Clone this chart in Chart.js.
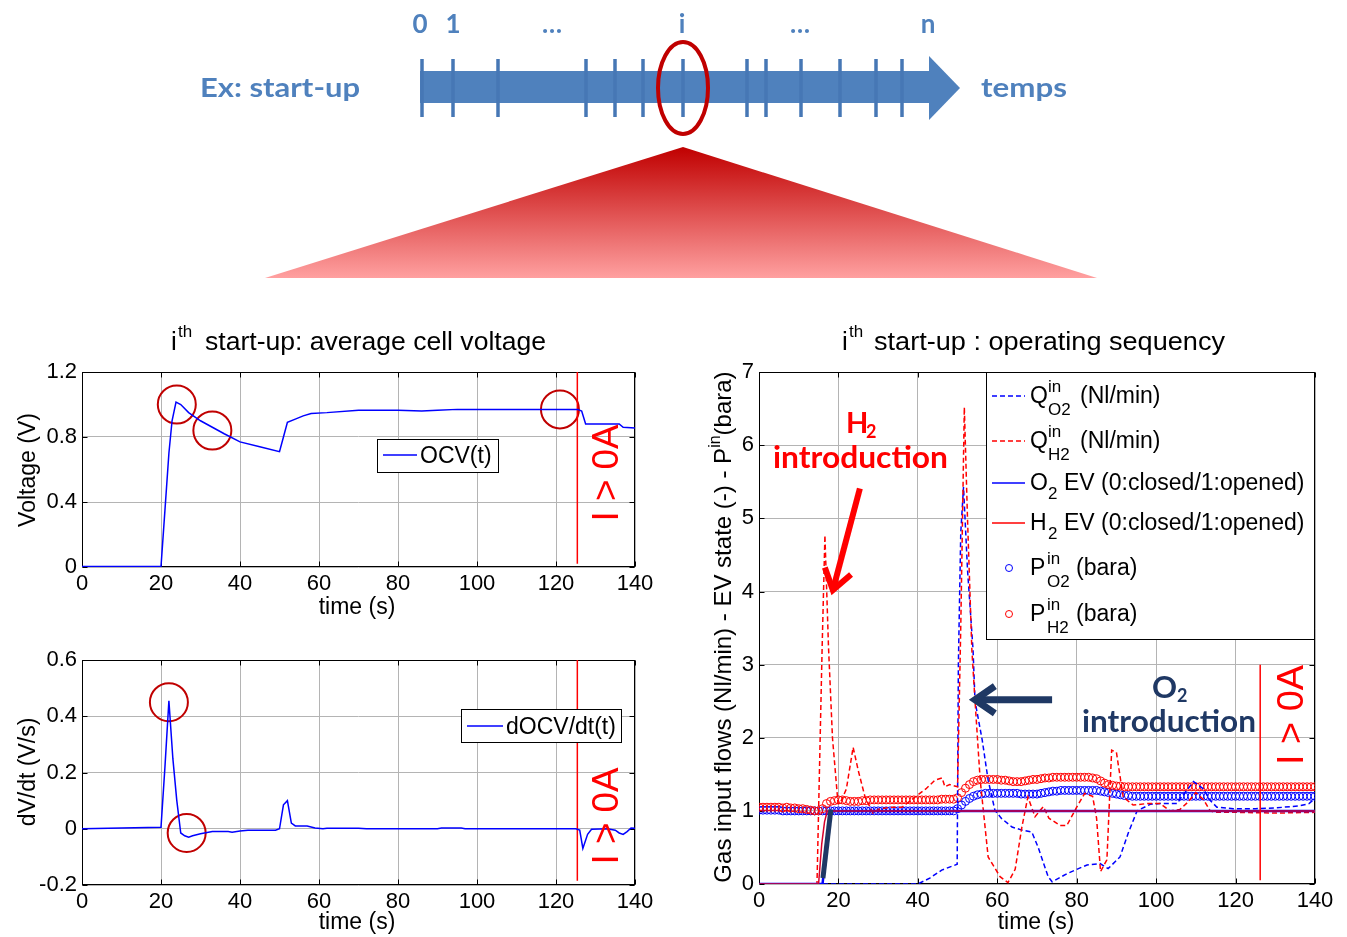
<!DOCTYPE html>
<html>
<head>
<meta charset="utf-8">
<title>ith start-up</title>
<script src="https://cdn.jsdelivr.net/npm/chart.js@4.4.1/dist/chart.umd.min.js"></script>
<style>
  html, body { margin: 0; padding: 0; background: #fff; }
  body { position: relative; width: 1347px; height: 937px; overflow: hidden; }
  canvas { position: absolute; }
  #overlay { position: absolute; left: 0; top: 0; pointer-events: none; }
  .arial { font-family: 'Liberation Sans', Arial, sans-serif; }
  .cal { font-family: Lato, 'Open Sans', sans-serif; font-weight: bold; }
</style>
</head>
<body>
<canvas id="ocvChart" width="660" height="256" style="left:0;top:351px"></canvas>
<canvas id="docvChart" width="660" height="286" style="left:0;top:639px"></canvas>
<canvas id="seqChart" width="647" height="570" style="left:700px;top:354px"></canvas>

<svg id="overlay" width="1347" height="937">
  <defs>
    <linearGradient id="tri" x1="0" y1="0" x2="0" y2="1">
      <stop offset="0" stop-color="#c00000"/>
      <stop offset="1" stop-color="#ffa0a0"/>
    </linearGradient>
  </defs>

  <!-- timeline of start-ups -->
  <polygon points="683,147 265,278 1097,278" fill="url(#tri)"/>
  <rect x="420" y="71" width="510" height="32" fill="#4f81bd"/>
  <polygon points="929,56 960,88 929,120" fill="#4f81bd"/>
  <g stroke="#4677b5" stroke-width="3.5">
    <line x1="422" y1="59" x2="422" y2="117"/>
    <line x1="453" y1="59" x2="453" y2="117"/>
    <line x1="498" y1="59" x2="498" y2="117"/>
    <line x1="586" y1="59" x2="586" y2="117"/>
    <line x1="615" y1="59" x2="615" y2="117"/>
    <line x1="643" y1="59" x2="643" y2="117"/>
    <line x1="683" y1="59" x2="683" y2="117"/>
    <line x1="747" y1="59" x2="747" y2="117"/>
    <line x1="766" y1="59" x2="766" y2="117"/>
    <line x1="801" y1="59" x2="801" y2="117"/>
    <line x1="840" y1="59" x2="840" y2="117"/>
    <line x1="876" y1="59" x2="876" y2="117"/>
    <line x1="902" y1="59" x2="902" y2="117"/>
  </g>
  <ellipse cx="683" cy="88" rx="25" ry="46" fill="none" stroke="#c00000" stroke-width="4"/>
  <g class="cal" fill="#4f81bd" font-size="27">
    <text x="200" y="97" textLength="160" lengthAdjust="spacingAndGlyphs">Ex: start-up</text>
    <text x="981" y="97" textLength="86" lengthAdjust="spacingAndGlyphs">temps</text>
    <g text-anchor="middle" font-size="26">
      <text x="420" y="33">0</text>
      <text x="453" y="33">1</text>
      <text x="552" y="33">…</text>
      <text x="682" y="33">i</text>
      <text x="800" y="33">…</text>
      <text x="928" y="33">n</text>
    </g>
  </g>

  <!-- titles -->
  <g class="arial" fill="#000">
    <text x="171" y="350" font-size="26">i</text>
    <text x="178" y="337" font-size="17">th</text>
    <text x="205" y="350" font-size="26" textLength="341" lengthAdjust="spacingAndGlyphs">start-up: average cell voltage</text>
    <text x="842" y="350" font-size="26">i</text>
    <text x="849" y="337" font-size="17">th</text>
    <text x="874" y="350" font-size="26" textLength="351" lengthAdjust="spacingAndGlyphs">start-up : operating sequency</text>

    <!-- axis titles -->
    <g font-size="23" text-anchor="middle">
      <text x="357" y="614">time (s)</text>
      <text x="357" y="929">time (s)</text>
      <text x="1036" y="929">time (s)</text>
      <text transform="translate(35,470) rotate(-90)">Voltage (V)</text>
      <text transform="translate(35,772) rotate(-90)">dV/dt (V/s)</text>
    </g>
    <text transform="translate(731,627) rotate(-90)" text-anchor="middle" font-size="24">Gas input flows (Nl/min) - EV state (-) - P<tspan font-size="16" dy="-11">in</tspan><tspan dy="11">(bara)</tspan></text>
  </g>

  <!-- I > 0A -->
  <g class="arial" fill="#ff0000" font-size="36" text-anchor="middle">
    <text transform="translate(618,473) rotate(-90)" textLength="97" lengthAdjust="spacingAndGlyphs">I &gt; 0A</text>
    <text transform="translate(618,816) rotate(-90)" textLength="97" lengthAdjust="spacingAndGlyphs">I &gt; 0A</text>
    <text transform="translate(1303,715) rotate(-90)" textLength="100" lengthAdjust="spacingAndGlyphs">I &gt; 0A</text>
  </g>

  <!-- legends -->
  <g class="arial" font-size="23" fill="#000">
    <rect x="377.5" y="439.5" width="121" height="33" fill="#fff" stroke="#000"/>
    <line x1="383" y1="455" x2="417" y2="455" stroke="#0000ff" stroke-width="1.5"/>
    <text x="420" y="463">OCV(t)</text>

    <rect x="461.5" y="709.5" width="160" height="33" fill="#fff" stroke="#000"/>
    <line x1="467" y1="726" x2="503" y2="726" stroke="#0000ff" stroke-width="1.5"/>
    <text x="506" y="734">dOCV/dt(t)</text>

    <rect x="986.5" y="372.5" width="328" height="267" fill="#fff" stroke="#000"/>
    <line x1="992" y1="396" x2="1025" y2="396" stroke="#0000ff" stroke-width="1.5" stroke-dasharray="5,3"/>
    <text x="1030" y="403">Q</text>
    <text x="1048" y="392" font-size="17">in</text>
    <text x="1048" y="415" font-size="17">O2</text>
    <text x="1080" y="403">(Nl/min)</text>

    <line x1="992" y1="441" x2="1025" y2="441" stroke="#ff0000" stroke-width="1.5" stroke-dasharray="5,3"/>
    <text x="1030" y="448">Q</text>
    <text x="1048" y="437" font-size="17">in</text>
    <text x="1048" y="460" font-size="17">H2</text>
    <text x="1080" y="448">(Nl/min)</text>

    <line x1="992" y1="483" x2="1025" y2="483" stroke="#0000ff" stroke-width="1.5"/>
    <text x="1030" y="490">O</text>
    <text x="1048" y="499" font-size="17">2</text>
    <text x="1064" y="490">EV (0:closed/1:opened)</text>

    <line x1="992" y1="523" x2="1025" y2="523" stroke="#ff0000" stroke-width="1.5"/>
    <text x="1030" y="530">H</text>
    <text x="1048" y="539" font-size="17">2</text>
    <text x="1064" y="530">EV (0:closed/1:opened)</text>

    <circle cx="1009" cy="568" r="3.5" fill="none" stroke="#0000ff" stroke-width="1"/>
    <text x="1030" y="575">P</text>
    <text x="1047" y="564" font-size="17">in</text>
    <text x="1047" y="587" font-size="17">O2</text>
    <text x="1076" y="575">(bara)</text>

    <circle cx="1009" cy="614" r="3.5" fill="none" stroke="#ff0000" stroke-width="1"/>
    <text x="1030" y="621">P</text>
    <text x="1047" y="610" font-size="17">in</text>
    <text x="1047" y="633" font-size="17">H2</text>
    <text x="1076" y="621">(bara)</text>
  </g>

  <!-- gas introduction notes -->
  <g class="cal">
    <g fill="#ff0000">
      <text x="846" y="433" font-size="29">H</text>
      <text x="866" y="438" font-size="18">2</text>
      <text x="773" y="468" font-size="31" textLength="175" lengthAdjust="spacingAndGlyphs">introduction</text>
    </g>
    <g fill="#1f3864">
      <text x="1152" y="698" font-size="31">O</text>
      <text x="1177" y="702" font-size="18">2</text>
      <text x="1082" y="732" font-size="31" textLength="174" lengthAdjust="spacingAndGlyphs">introduction</text>
    </g>
  </g>
</svg>

<script>
const FONT = "'Liberation Sans', Arial, sans-serif";
const GRID = '#b4b4b4';

// axes
const timeTicks = [0, 20, 40, 60, 80, 100, 120, 140];
const ocvTicks = [0, 0.4, 0.8, 1.2];
const docvTicks = [-0.2, 0, 0.2, 0.4, 0.6];
const seqTicks = [0, 1, 2, 3, 4, 5, 6, 7];

// average cell voltage (V)
const ocvTime = [0, 20, 21, 22, 22.8, 23.8, 25, 27, 30, 33, 36, 40, 45, 50, 51, 52, 54, 56, 58, 62, 70, 80, 86, 90, 95, 100, 125.5, 126.5, 127.5, 136, 137, 140];
const ocvValue = [0.003, 0.003, 0.35, 0.7, 0.9, 1.015, 1.0, 0.95, 0.9, 0.86, 0.82, 0.77, 0.74, 0.71, 0.8, 0.89, 0.91, 0.93, 0.945, 0.95, 0.965, 0.965, 0.96, 0.965, 0.97, 0.97, 0.97, 0.96, 0.88, 0.88, 0.86, 0.855];
const ocvMarkTime = [24, 33, 121];
const ocvMarkValue = [1.0, 0.84, 0.97];

// derivative dOCV/dt (V/s)
const docvTime = [0, 20, 21, 22, 23, 24, 25, 26, 27, 28, 30, 33, 37, 38, 40, 42, 49, 50, 51, 52, 53, 54, 57, 59, 61, 62, 70, 72, 90, 91, 96, 97, 125, 126, 126.8, 128, 129, 133, 135, 136, 137, 138, 139, 140];
const docvValue = [0, 0.005, 0.22, 0.455, 0.25, 0.1, -0.015, -0.025, -0.03, -0.025, -0.018, -0.01, -0.01, -0.012, -0.008, -0.005, -0.005, 0, 0.085, 0.1, 0.02, 0.01, 0.01, 0.003, 0, 0.002, 0.002, 0, 0, 0.003, 0.003, 0, 0, -0.005, -0.07, -0.02, -0.002, 0, -0.005, -0.015, -0.02, -0.01, 0.003, 0.002];
const docvMarkTime = [22, 26.5];
const docvMarkValue = [0.45, -0.015];

// current switched on
const currentOnTime = [125.4, 125.4];
const ocvCurrentOn = [0.02, 1.2];
const docvCurrentOn = [-0.185, 0.6];
const seqCurrentTime = [126.2, 126.2];
const seqCurrentOn = [0.05, 3.0];

// operating sequency: inlet flows (Nl/min)
const qO2Time = [0, 40, 43, 46, 49.9, 50.2, 50.8, 51.5, 52.5, 53.9, 54.4, 56.2, 57.7, 59.4, 61, 63.7, 66, 68.7, 70.3, 72.8, 73.8, 75.5, 77.5, 80, 82.6, 85.9, 87.9, 90.9, 93, 95.2, 98.5, 101, 105.3, 106.5, 108, 109.4, 111.9, 113.5, 115.3, 119.4, 125, 130, 136.2, 138.5, 140];
const qO2Value = [0, 0, 0.08, 0.19, 0.27, 3.0, 4.8, 5.43, 4.3, 3.2, 2.5, 1.97, 1.42, 1.01, 0.9, 0.78, 0.74, 0.71, 0.5, 0.1, 0.03, 0.08, 0.14, 0.2, 0.26, 0.28, 0.21, 0.37, 0.7, 1.0, 1.09, 1.1, 1.1, 1.2, 1.3, 1.4, 1.3, 1.15, 1.05, 1.03, 1.03, 1.04, 1.07, 1.1, 1.17];
const qH2Time = [0, 14.6, 15.9, 16.6, 17.5, 18.5, 19.9, 20.4, 22, 23.7, 25, 26.7, 28.7, 30, 33, 36, 39.3, 42, 44.3, 46.1, 46.8, 48, 50, 50.8, 51.7, 52.5, 53.6, 54.4, 55.7, 57.7, 60.7, 62.7, 64.5, 66.2, 67.7, 69.5, 71.6, 73, 75.8, 77.5, 80, 82, 84, 85, 86, 87.6, 88.8, 90, 91.7, 94.2, 97.7, 101, 103.5, 106, 108, 110, 112, 113.6, 115, 120, 130, 140];
const qH2Value = [0, 0, 3.24, 4.77, 3.24, 2.0, 1.1, 1.1, 1.3, 1.87, 1.55, 1.19, 0.97, 1.02, 1.05, 1.05, 1.19, 1.3, 1.42, 1.45, 1.33, 1.36, 1.33, 3.5, 6.52, 5.0, 3.2, 2.5, 1.42, 0.37, 0.1, 0.02, 0.2, 0.78, 1.19, 0.92, 1.06, 0.9, 0.8, 0.8, 1.05, 1.24, 1.2, 0.9, 0.17, 0.33, 1.83, 1.8, 1.19, 1.08, 1.1, 1.1, 1.0, 1.02, 1.12, 1.25, 1.15, 1.0, 0.98, 0.98, 0.97, 0.98];

// valve states (0 closed / 1 opened)
const evO2Time = [0, 16, 18, 140];
const evO2Value = [0, 0, 1, 1];
const evH2Time = [0, 15, 15.8, 16.5, 17.2, 140];
const evH2Value = [0, 0, 0.55, 0.85, 1, 1];
const evMarkTime = [16.1, 18.1];
const evMarkValue = [0.08, 1.02];

// inlet pressures (bara), one sample per second from t = 0 s
const pO2 = [
  1.01, 1.01, 1.01, 1.01, 1.01, 1.01, 1.0, 1.0, 1.0, 1.0,
  1.0, 1.0, 1.0, 1.0, 1.0, 1.0, 1.0, 1.0, 1.0, 1.0,
  1.0, 1.0, 1.0, 1.0, 1.0, 1.0, 1.0, 1.0, 1.0, 1.0,
  1.0, 1.0, 1.0, 1.0, 1.0, 1.0, 1.0, 1.0, 1.0, 1.0,
  1.0, 1.0, 1.0, 1.0, 1.0, 1.0, 1.0, 1.0, 1.0, 1.0,
  1.03, 1.08, 1.13, 1.17, 1.2, 1.22, 1.23, 1.24, 1.24, 1.24,
  1.24, 1.24, 1.24, 1.24, 1.24, 1.24, 1.23, 1.23, 1.23, 1.23,
  1.23, 1.24, 1.25, 1.26, 1.27, 1.27, 1.28, 1.28, 1.28, 1.28,
  1.28, 1.28, 1.28, 1.28, 1.28, 1.28, 1.27, 1.26, 1.25, 1.24,
  1.23, 1.22, 1.21, 1.21, 1.2, 1.2, 1.2, 1.2, 1.2, 1.2,
  1.2, 1.2, 1.2, 1.2, 1.2, 1.2, 1.2, 1.2, 1.2, 1.2,
  1.2, 1.2, 1.2, 1.2, 1.2, 1.2, 1.2, 1.2, 1.2, 1.2,
  1.2, 1.2, 1.2, 1.2, 1.2, 1.2, 1.2, 1.2, 1.2, 1.2,
  1.2, 1.2, 1.2, 1.2, 1.2, 1.2, 1.2, 1.2, 1.2, 1.2,
  1.2
];
const pH2 = [
  1.05, 1.05, 1.05, 1.05, 1.05, 1.05, 1.04, 1.05, 1.04, 1.04,
  1.03, 1.03, 1.02, 1.01, 1.0, 1.0, 1.03, 1.1, 1.13, 1.14,
  1.15, 1.15, 1.14, 1.13, 1.13, 1.13, 1.14, 1.14, 1.15, 1.15,
  1.15, 1.15, 1.15, 1.15, 1.15, 1.15, 1.15, 1.15, 1.15, 1.15,
  1.15, 1.15, 1.15, 1.15, 1.15, 1.15, 1.16, 1.16, 1.16, 1.16,
  1.18, 1.25, 1.31, 1.36, 1.4, 1.42, 1.43, 1.43, 1.43, 1.43,
  1.43, 1.42, 1.42, 1.41, 1.4, 1.4, 1.4, 1.41, 1.42, 1.43,
  1.43, 1.44, 1.45, 1.45, 1.46, 1.46, 1.46, 1.46, 1.46, 1.46,
  1.46, 1.46, 1.46, 1.46, 1.45, 1.44, 1.41, 1.38, 1.36, 1.35,
  1.34, 1.34, 1.33, 1.33, 1.33, 1.33, 1.33, 1.33, 1.33, 1.33,
  1.33, 1.33, 1.33, 1.33, 1.33, 1.33, 1.33, 1.33, 1.33, 1.33,
  1.33, 1.33, 1.33, 1.33, 1.33, 1.33, 1.33, 1.33, 1.33, 1.33,
  1.33, 1.33, 1.33, 1.33, 1.33, 1.33, 1.33, 1.33, 1.33, 1.33,
  1.33, 1.33, 1.33, 1.33, 1.33, 1.33, 1.33, 1.33, 1.33, 1.33,
  1.33
];

// annotation arrows (tail -> tip, in data units)
const h2ArrowTime = [25.4, 18.6];
const h2ArrowValue = [5.41, 4.02];
const o2ArrowTime = [73.8, 54.4];
const o2ArrowValue = [2.52, 2.52];

function pairs(xs, ys) {
    return xs.map((x, i) => ({ x: x, y: ys[i] }));
}

// box around the plot and small inner tick marks, matlab style
// drawn before the data so curves sitting on the axes stay visible
const frame = {
    id: 'frame',
    beforeDatasetsDraw(chart) {
        const { ctx, chartArea: a, scales } = chart;
        const l = Math.round(a.left) + 0.5, r = Math.round(a.right) - 0.5;
        const t = Math.round(a.top) + 0.5, b = Math.round(a.bottom) - 0.5;
        ctx.save();
        ctx.strokeStyle = '#000';
        ctx.lineWidth = 1;
        ctx.beginPath();
        for (const tk of scales.x.ticks) {
            const px = Math.round(scales.x.getPixelForValue(tk.value)) + 0.5;
            ctx.moveTo(px, b); ctx.lineTo(px, b - 5);
            ctx.moveTo(px, t); ctx.lineTo(px, t + 5);
        }
        for (const tk of scales.y.ticks) {
            const py = Math.round(scales.y.getPixelForValue(tk.value)) + 0.5;
            ctx.moveTo(l, py); ctx.lineTo(l + 5, py);
            ctx.moveTo(r, py); ctx.lineTo(r - 5, py);
        }
        ctx.stroke();
        ctx.strokeRect(l, t, r - l, b - t);
        ctx.restore();
    }
};

function arrows(list) {
    return {
        id: 'arrows',
        afterDatasetsDraw(chart) {
            const { ctx, scales: { x, y } } = chart;
            for (const a of list) {
                const x0 = x.getPixelForValue(a.t[0]), y0 = y.getPixelForValue(a.v[0]);
                const x1 = x.getPixelForValue(a.t[1]), y1 = y.getPixelForValue(a.v[1]);
                const ang = Math.atan2(y1 - y0, x1 - x0);
                ctx.save();
                ctx.strokeStyle = a.color;
                ctx.lineWidth = a.width;
                ctx.lineJoin = 'miter';
                ctx.beginPath();
                ctx.moveTo(x0, y0);
                ctx.lineTo(x1 - Math.cos(ang) * 3, y1 - Math.sin(ang) * 3);
                ctx.stroke();
                ctx.beginPath();
                ctx.moveTo(x1 - a.head * Math.cos(ang - 0.6), y1 - a.head * Math.sin(ang - 0.6));
                ctx.lineTo(x1, y1);
                ctx.lineTo(x1 - a.head * Math.cos(ang + 0.6), y1 - a.head * Math.sin(ang + 0.6));
                ctx.stroke();
                ctx.restore();
            }
        }
    };
}

function makeScales(yTicks, yMin, yMax, yWidth) {
    const tickFont = { family: FONT, size: 22 };
    return {
        x: {
            type: 'linear',
            min: 0,
            max: 140,
            afterBuildTicks: s => { s.ticks = timeTicks.map(v => ({ value: v })); },
            afterFit: s => { s.height = 40; },
            grid: { color: GRID, drawTicks: false },
            border: { display: false },
            ticks: { font: tickFont, color: '#000', padding: 4, maxRotation: 0, autoSkip: false, callback: v => String(v) }
        },
        y: {
            type: 'linear',
            min: yMin,
            max: yMax,
            afterBuildTicks: s => { s.ticks = yTicks.map(v => ({ value: v })); },
            afterFit: s => { s.width = yWidth; },
            grid: { color: GRID, drawTicks: false },
            border: { display: false },
            ticks: { font: tickFont, color: '#000', padding: 5, autoSkip: false, callback: v => String(v) }
        }
    };
}

const baseOptions = (scales, padding) => ({
    responsive: false,
    animation: false,
    events: [],
    layout: { padding: padding },
    plugins: { legend: { display: false }, tooltip: { enabled: false } },
    elements: { line: { tension: 0 } },
    scales: scales
});

const circleMarks = (xs, ys) => ({
    data: pairs(xs, ys),
    showLine: false,
    pointRadius: 19,
    pointBorderWidth: 2,
    pointBorderColor: '#c00000',
    pointBackgroundColor: 'rgba(0,0,0,0)',
    clip: false
});

new Chart(document.getElementById('ocvChart'), {
    type: 'line',
    data: {
        datasets: [
            { data: pairs(ocvTime, ocvValue), borderColor: '#0000ff', borderWidth: 1.5, pointRadius: 0 },
            { data: pairs(currentOnTime, ocvCurrentOn), borderColor: '#ff0000', borderWidth: 1.5, pointRadius: 0 },
            circleMarks(ocvMarkTime, ocvMarkValue)
        ]
    },
    options: baseOptions(makeScales(ocvTicks, 0, 1.2, 82), { top: 14, right: 25, left: 0, bottom: 0 }),
    plugins: [frame]
});

new Chart(document.getElementById('docvChart'), {
    type: 'line',
    data: {
        datasets: [
            { data: pairs(docvTime, docvValue), borderColor: '#0000ff', borderWidth: 1.5, pointRadius: 0 },
            { data: pairs(currentOnTime, docvCurrentOn), borderColor: '#ff0000', borderWidth: 1.5, pointRadius: 0 },
            circleMarks(docvMarkTime, docvMarkValue)
        ]
    },
    options: baseOptions(makeScales(docvTicks, -0.2, 0.6, 82), { top: 14, right: 25, left: 0, bottom: 0 }),
    plugins: [frame]
});

const pTime = pO2.map((_, i) => i);

new Chart(document.getElementById('seqChart'), {
    type: 'line',
    data: {
        datasets: [
            { label: 'P O2', data: pairs(pTime, pO2), showLine: false, pointRadius: 4, pointBorderWidth: 1,
              pointBorderColor: '#0000ff', pointBackgroundColor: 'rgba(0,0,0,0)', order: 7 },
            { label: 'P H2', data: pairs(pTime, pH2), showLine: false, pointRadius: 4, pointBorderWidth: 1,
              pointBorderColor: '#ff0000', pointBackgroundColor: 'rgba(0,0,0,0)', order: 6 },
            { label: 'Q O2', data: pairs(qO2Time, qO2Value), borderColor: '#0000ff', borderWidth: 1.5,
              borderDash: [5, 3], pointRadius: 0, order: 5 },
            { label: 'Q H2', data: pairs(qH2Time, qH2Value), borderColor: '#ff0000', borderWidth: 1.5,
              borderDash: [5, 3], pointRadius: 0, order: 4 },
            { label: 'O2 EV', data: pairs(evO2Time, evO2Value), borderColor: '#0000ff', borderWidth: 2.5,
              pointRadius: 0, order: 3 },
            { label: 'H2 EV', data: pairs(evH2Time, evH2Value), borderColor: '#d8002a', borderWidth: 1.5,
              pointRadius: 0, order: 2 },
            { label: 'O2 EV mark', data: pairs(evMarkTime, evMarkValue), borderColor: '#1f3864', borderWidth: 5,
              pointRadius: 0, order: 1 },
            { label: 'I > 0A', data: pairs(seqCurrentTime, seqCurrentOn), borderColor: '#ff0000', borderWidth: 1.5,
              pointRadius: 0, order: 0 }
        ]
    },
    options: baseOptions(makeScales(seqTicks, 0, 7, 59), { top: 14, right: 32, left: 0, bottom: 0 }),
    plugins: [frame, arrows([
        { t: h2ArrowTime, v: h2ArrowValue, color: '#ff0000', width: 6, head: 24 },
        { t: o2ArrowTime, v: o2ArrowValue, color: '#1f3864', width: 7, head: 24 }
    ])]
});
</script>
</body>
</html>
